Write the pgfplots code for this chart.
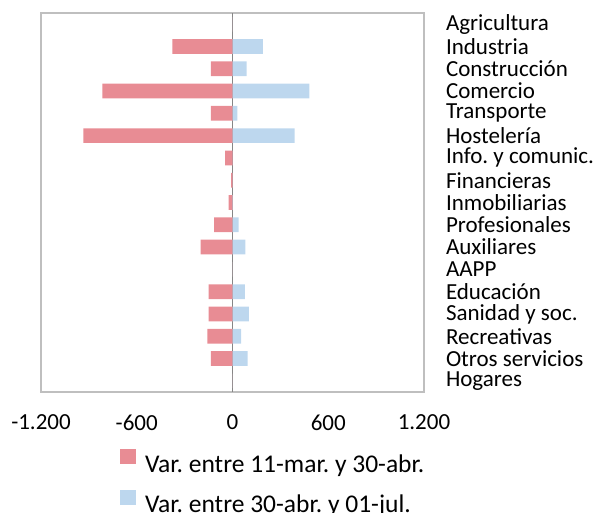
\documentclass[border=0pt]{standalone}
\usepackage{pgfplots}
\pgfplotsset{compat=1.18}
\usepackage{fontspec}
\setmainfont{Carlito}
\definecolor{redbar}{RGB}{232,140,148}
\definecolor{bluebar}{RGB}{189,215,238}
\definecolor{boxgray}{RGB}{191,191,191}
\definecolor{zerogray}{RGB}{134,134,134}
\frenchspacing
\begin{document}
\begin{tikzpicture}
\useasboundingbox (-41bp,-121bp) rectangle (561bp,392bp);
\begin{axis}[
  scale only axis, width=383bp, height=379bp,
  xbar, bar shift=0pt, bar width=0.66,
  xmin=-1200, xmax=1200,
  ymin=-0.5, ymax=16.5, y dir=reverse,
  xtick={-1200,-600,0,600,1200},
  xticklabels={-1.200,-600,0,600,1.200},
  xticklabel style={yshift=-19bp, font=\fontsize{23bp}{27bp}\selectfont},
  ytick={0,...,16},
  yticklabels={Agricultura,Industria,Construcción,Comercio,Transporte,Hostelería,
    Info. y comunic.,Financieras,Inmobiliarias,Profesionales,Auxiliares,AAPP,
    Educación,Sanidad y soc.,Recreativas,Otros servicios,Hogares},
  yticklabel pos=right,
  yticklabel style={anchor=west, xshift=18.5bp, inner ysep=0pt,
    font=\fontsize{23bp}{25bp}\selectfont},
  major tick length=0pt,
  axis line style={boxgray, line width=1.5bp},
  extra x ticks={0}, extra x tick labels={},
  extra x tick style={grid=major, major grid style={zerogray, line width=1.3bp}},
  legend style={at={(0.206,0)}, anchor=north west, yshift=-57bp,
    draw=none, fill=none, row sep=14bp, inner sep=0pt,
    font=\fontsize{25.5bp}{29bp}\selectfont},
  legend cell align=left,
  legend image code/.code={\draw[#1, draw=none] (0bp,0bp) rectangle (16bp,15bp);
    \path (23bp,0bp);},
]
\addplot[fill=redbar, draw=none] coordinates {
  (0,0) (-376,1) (-135,2) (-815,3) (-135,4) (-934,5) (-46,6) (-8,7) (-25,8)
  (-115,9) (-200,10) (0,11) (-150,12) (-150,13) (-157,14) (-135,15) (0,16)};
\addlegendentry{Var. entre 11-mar. y 30-abr.}
\addplot[fill=bluebar, draw=none] coordinates {
  (0,0) (190,1) (88,2) (481,3) (31,4) (389,5) (0,6) (0,7) (2,8)
  (38,9) (80,10) (0,11) (77,12) (102,13) (54,14) (94,15) (0,16)};
\addlegendentry{Var. entre 30-abr. y 01-jul.}
\end{axis}
\end{tikzpicture}
\end{document}
